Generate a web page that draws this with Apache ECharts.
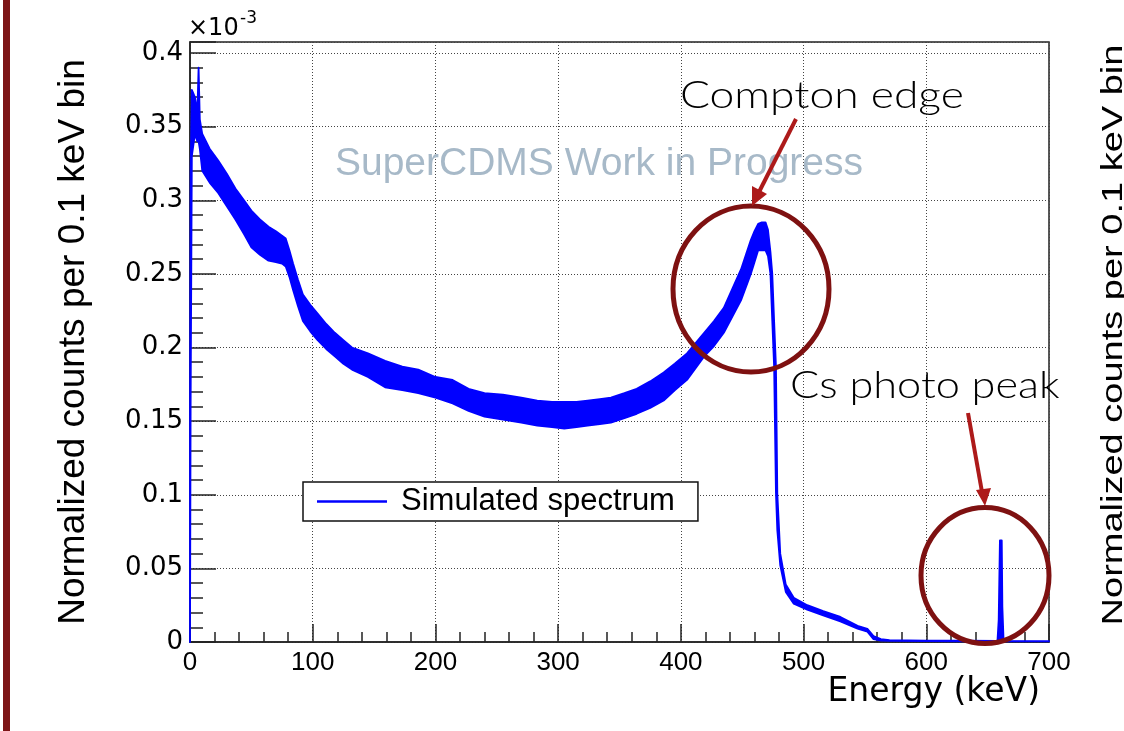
<!DOCTYPE html>
<html>
<head>
<meta charset="utf-8">
<script src="https://cdn.jsdelivr.net/npm/echarts@6/dist/echarts.min.js"></script>
<style>
html,body{margin:0;padding:0;background:#fff;}
#chart{width:1124px;height:731px;}
</style>
</head>
<body>
<div id="chart"></div>
<script>
// Energy (keV) sample points
const energy = [0, 0.5, 1.5, 4, 6, 7, 8, 10, 16, 23, 30, 37, 44, 50, 57, 64, 70, 75, 78, 81, 84, 88, 92, 98, 104, 111, 118, 125, 132, 145, 159, 173, 186, 200, 214, 227, 240, 255, 270, 283, 295, 305, 315, 324, 334, 343, 354, 364, 375, 386, 395, 405, 412, 419, 427, 435, 442, 449, 453, 457, 460, 463, 466, 469, 471, 473, 474.5, 476, 477.5, 478.6, 481, 485.5, 492, 503, 516, 530, 544, 552, 557, 563, 570, 600, 630, 658, 659, 660, 661.5, 662, 663, 700];
// Upper edge of the (noisy) simulated spectrum band, x10^-3 counts per 0.1 keV bin
const upper = [0.157, 0.32, 0.375, 0.37, 0.36, 0.39, 0.355, 0.345, 0.335, 0.327, 0.318, 0.308, 0.300, 0.293, 0.287, 0.282, 0.279, 0.276, 0.274, 0.266, 0.257, 0.246, 0.236, 0.229, 0.223, 0.216, 0.210, 0.205, 0.200, 0.196, 0.191, 0.187, 0.185, 0.180, 0.178, 0.172, 0.169, 0.168, 0.166, 0.164, 0.163, 0.163, 0.163, 0.164, 0.165, 0.166, 0.169, 0.172, 0.177, 0.183, 0.189, 0.196, 0.203, 0.210, 0.218, 0.227, 0.240, 0.253, 0.263, 0.273, 0.279, 0.284, 0.285, 0.285, 0.280, 0.265, 0.250, 0.218, 0.187, 0.101, 0.060, 0.039, 0.030, 0.025, 0.021, 0.017, 0.011, 0.009, 0.004, 0.002, 0.0012, 0.001, 0.0009, 0.0008, 0.015, 0.069, 0.069, 0.024, 0.0008, 0.0006];
// Lower edge of the band
const lower = [0, 0.157, 0.33, 0.345, 0.34, 0.34, 0.335, 0.32, 0.312, 0.305, 0.296, 0.287, 0.277, 0.268, 0.263, 0.259, 0.258, 0.257, 0.255, 0.248, 0.239, 0.228, 0.218, 0.211, 0.205, 0.199, 0.194, 0.189, 0.185, 0.180, 0.173, 0.171, 0.169, 0.166, 0.162, 0.157, 0.153, 0.151, 0.149, 0.147, 0.146, 0.145, 0.146, 0.147, 0.148, 0.149, 0.152, 0.155, 0.159, 0.164, 0.171, 0.178, 0.186, 0.194, 0.201, 0.210, 0.221, 0.232, 0.241, 0.250, 0.258, 0.266, 0.266, 0.266, 0.262, 0.250, 0.218, 0.187, 0.101, 0.076, 0.052, 0.034, 0.026, 0.022, 0.018, 0.014, 0.009, 0.007, 0.002, 0.001, 0.0008, 0.0006, 0.0005, 0.0005, 0.0005, 0.0005, 0.0005, 0.0005, 0.0005, 0.0004];
const xTicks = [0, 100, 200, 300, 400, 500, 600, 700];
const yTickLabels = ['0', '0.05', '0.1', '0.15', '0.2', '0.25', '0.3', '0.35', '0.4'];

const chart = echarts.init(document.getElementById('chart'), null, {renderer: 'canvas'});
const axisCol = '#222';
const gridLine = {show: true, lineStyle: {color: '#444', width: 1, type: [1, 2]}};

const option = {
  backgroundColor: '#fff',
  animation: false,
  grid: {left: 190, right: 75, top: 42, bottom: 89, show: true, borderColor: axisCol, borderWidth: 1.5, backgroundColor: 'transparent'},
  legend: {
    left: 303, top: 482, orient: 'horizontal',
    padding: [4, 23, 4, 14],
    backgroundColor: '#fff', borderColor: '#111', borderWidth: 1.5, borderRadius: 0,
    itemWidth: 70, itemHeight: 2.5,
    textStyle: {fontFamily: 'Liberation Sans', fontSize: 31, color: '#000', padding: [0, 0, 0, 9]},
    data: [{name: 'Simulated spectrum', icon: 'rect', itemStyle: {color: '#0000ff'}}]
  },
  xAxis: {
    type: 'value', min: xTicks[0], max: xTicks[xTicks.length - 1], interval: 100,
    axisLine: {show: true, onZero: false, lineStyle: {color: axisCol, width: 1.5}},
    axisTick: {show: true, inside: true, length: 18, lineStyle: {color: axisCol, width: 1.5}},
    minorTick: {show: true, splitNumber: 5, length: 10, lineStyle: {color: axisCol, width: 1.5}},
    axisLabel: {fontFamily: 'Liberation Sans', fontSize: 26, color: '#000', margin: 8,
      formatter: v => xTicks.indexOf(Math.round(v)) >= 0 ? String(Math.round(v)) : ''},
    splitLine: gridLine,
    name: 'Energy (keV)', nameLocation: 'end', nameGap: -9,
    nameTextStyle: {fontFamily: 'DejaVu Sans', fontSize: 33, color: '#000', align: 'right', verticalAlign: 'top', padding: [34, 0, 0, 0]}
  },
  yAxis: [{
    type: 'value', min: 0, max: 0.4075, interval: 0.05, position: 'left',
    axisLine: {show: true, onZero: false, lineStyle: {color: axisCol, width: 1.5}},
    axisTick: {show: true, inside: true, length: 26, lineStyle: {color: axisCol, width: 1.5}},
    axisLabel: {fontFamily: 'DejaVu Sans', fontSize: 26, color: '#000', margin: 7,
      formatter: v => {
        const r = Math.round(v / 0.05);
        if (Math.abs(v - r * 0.05) > 1e-6) return '';
        return yTickLabels[r] || '';
      }},
    splitLine: gridLine,
    name: 'Normalized counts per 0.1 keV bin', nameLocation: 'middle', nameGap: 98,
    nameTextStyle: {fontFamily: 'Liberation Sans', fontSize: 37, color: '#000'}
  }, {
    type: 'value', min: 0, max: 0.4075, interval: 0.01, position: 'left',
    axisLine: {show: false},
    axisTick: {show: true, inside: true, length: 13, lineStyle: {color: axisCol, width: 1.5}},
    axisLabel: {show: false},
    splitLine: {show: false}
  }],
  series: [{
    name: 'Simulated spectrum',
    type: 'custom',
    coordinateSystem: 'cartesian2d',
    xAxisIndex: 0, yAxisIndex: 0,
    itemStyle: {color: '#0000ff'},
    data: [[energy[0], upper[0]]],
    encode: {x: 0, y: 1},
    z: 3,
    renderItem: function (params, api) {
      const pts = [];
      for (let i = 0; i < energy.length; i++) pts.push(api.coord([energy[i], upper[i]]));
      for (let i = energy.length - 1; i >= 0; i--) pts.push(api.coord([energy[i], lower[i]]));
      return {type: 'polygon', shape: {points: pts},
        style: {fill: '#0000ff', stroke: '#0000ff', lineWidth: 1.8, lineJoin: 'round'}};
    }
  }],
  graphic: [
    {type: 'rect', z: 100, shape: {x: 3, y: 0, width: 7, height: 731}, style: {fill: '#7d1517'}},
    {type: 'text', z: 100, x: 188, y: 29, style: {text: '×10', fontFamily: 'DejaVu Sans', fontSize: 24, fill: '#000', align: 'left', verticalAlign: 'middle'}},
    {type: 'text', z: 100, x: 240, y: 19, style: {text: '-3', fontFamily: 'DejaVu Sans', fontSize: 17, fill: '#000', align: 'left', verticalAlign: 'middle'}},
    {type: 'text', z: 100, x: 599, y: 164, style: {text: 'SuperCDMS Work in Progress', fontFamily: 'Liberation Sans', fontSize: 39, fill: '#a7b9c8', align: 'center', verticalAlign: 'middle'}},
    {type: 'text', z: 100, x: 680, y: 96, scaleX: 1.2, style: {text: 'Compton edge', fontFamily: 'Lato', fontWeight: 300, fontSize: 37, fill: '#000', align: 'left', verticalAlign: 'middle'}},
    {type: 'text', z: 100, x: 790, y: 386, scaleX: 1.17, style: {text: 'Cs photo peak', fontFamily: 'Lato', fontWeight: 300, fontSize: 37, fill: '#000', align: 'left', verticalAlign: 'middle'}},
    {type: 'ellipse', z: 100, shape: {cx: 751, cy: 289, rx: 78, ry: 83}, style: {fill: 'none', stroke: '#7e1111', lineWidth: 5}},
    {type: 'ellipse', z: 100, shape: {cx: 985, cy: 575.5, rx: 64, ry: 68}, style: {fill: 'none', stroke: '#7e1111', lineWidth: 5}},
    {type: 'line', z: 100, shape: {x1: 796, y1: 119, x2: 759, y2: 192}, style: {stroke: '#ad1a1a', lineWidth: 4}},
    {type: 'polygon', z: 100, shape: {points: [[752, 206], [752, 186], [767, 194]]}, style: {fill: '#ad1a1a'}},
    {type: 'line', z: 100, shape: {x1: 968, y1: 413, x2: 982, y2: 492}, style: {stroke: '#ad1a1a', lineWidth: 4}},
    {type: 'polygon', z: 100, shape: {points: [[985, 506], [976, 490], [991, 488]]}, style: {fill: '#ad1a1a'}},
    {type: 'text', z: 100, x: 1114, y: 335, rotation: Math.PI / 2, scaleY: 0.8, style: {text: 'Normalized counts per 0.1 keV bin', fontFamily: 'Liberation Sans', fontSize: 38, fill: '#000', align: 'center', verticalAlign: 'middle'}}
  ]
};
chart.setOption(option);
</script>
</body>
</html>
